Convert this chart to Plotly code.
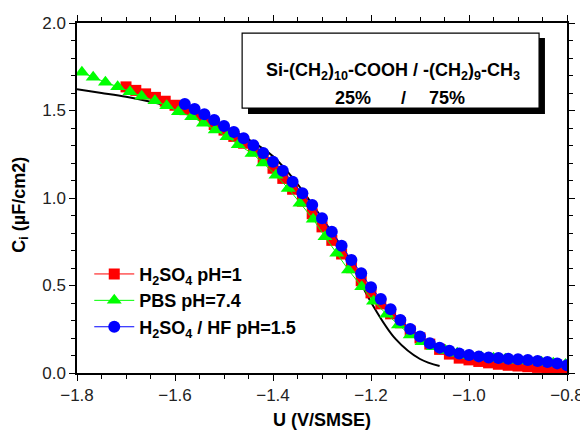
import plotly.graph_objects as go

# data
u_h2so4 = [-1.70, -1.68, -1.66, -1.64, -1.62, -1.60, -1.58, -1.56, -1.54, -1.52,
           -1.50, -1.48, -1.46, -1.44, -1.42, -1.40, -1.38, -1.36, -1.34, -1.32,
           -1.30, -1.28, -1.26, -1.24, -1.22, -1.20, -1.18, -1.16, -1.14, -1.12,
           -1.10, -1.08, -1.06, -1.04, -1.02, -1.00, -0.98, -0.96, -0.94, -0.92,
           -0.90, -0.88, -0.86, -0.84, -0.82, -0.80]
c_h2so4 = [1.635, 1.615, 1.595, 1.575, 1.553, 1.530, 1.505, 1.478, 1.450, 1.420,
           1.388, 1.352, 1.313, 1.270, 1.222, 1.170, 1.112, 1.050, 0.982, 0.910,
           0.835, 0.758, 0.680, 0.602, 0.527, 0.458, 0.395, 0.338, 0.287, 0.240,
           0.200, 0.165, 0.135, 0.108, 0.085, 0.075, 0.066, 0.058, 0.050, 0.044,
           0.040, 0.036, 0.032, 0.029, 0.026, 0.023]

u_pbs = [-1.790, -1.767, -1.742, -1.717, -1.692, -1.668, -1.641, -1.617, -1.593, -1.566,
         -1.542, -1.518, -1.494, -1.471, -1.443, -1.420, -1.394, -1.369, -1.345, -1.318,
         -1.294, -1.270, -1.246, -1.219, -1.195, -1.168, -1.144, -1.120, -1.096, -1.073,
         -1.048, -1.024, -0.999, -0.975, -0.950, -0.926, -0.901, -0.877, -0.852, -0.828,
         -0.803]
c_pbs = [1.718, 1.690, 1.661, 1.636, 1.607, 1.581, 1.556, 1.527, 1.493, 1.465,
         1.427, 1.389, 1.350, 1.305, 1.255, 1.200, 1.130, 1.055, 0.970, 0.879,
         0.779, 0.684, 0.589, 0.493, 0.410, 0.336, 0.274, 0.217, 0.179, 0.150,
         0.128, 0.113, 0.100, 0.092, 0.085, 0.079, 0.073, 0.068, 0.062, 0.056,
         0.048]

u_hf = [-1.58, -1.56, -1.54, -1.52, -1.50, -1.48, -1.46, -1.44, -1.42, -1.40,
        -1.38, -1.36, -1.34, -1.32, -1.30, -1.28, -1.26, -1.24, -1.22, -1.20,
        -1.18, -1.16, -1.14, -1.12, -1.10, -1.08, -1.06, -1.04, -1.02, -1.00,
        -0.98, -0.96, -0.94, -0.92, -0.90, -0.88, -0.86, -0.84, -0.82, -0.80]
c_hf = [1.537, 1.509, 1.478, 1.446, 1.411, 1.377, 1.341, 1.301, 1.257, 1.207,
        1.156, 1.093, 1.027, 0.960, 0.884, 0.807, 0.727, 0.646, 0.570, 0.490,
        0.423, 0.364, 0.303, 0.252, 0.208, 0.170, 0.145, 0.127, 0.112, 0.103,
        0.095, 0.089, 0.086, 0.082, 0.078, 0.074, 0.069, 0.063, 0.055, 0.044]

u_fit = [-1.80, -1.75, -1.70, -1.65, -1.60, -1.55, -1.50, -1.45, -1.40, -1.35,
         -1.30, -1.25, -1.20, -1.15, -1.10, -1.06]
c_fit = [1.621, 1.600, 1.578, 1.550, 1.515, 1.470, 1.412, 1.335, 1.238, 1.080,
         0.885, 0.675, 0.405, 0.195, 0.080, 0.040]

FONT = "Arial, Liberation Sans, sans-serif"

fig = go.Figure()

fig.add_trace(go.Scatter(
    x=u_fit, y=c_fit, mode="lines", line=dict(color="black", width=2, shape="spline"),
    showlegend=False, hoverinfo="skip",
))
fig.add_trace(go.Scatter(
    x=u_h2so4, y=c_h2so4, mode="lines+markers", name="<b>H<sub>2</sub>SO<sub>4</sub> pH=1</b>",
    line=dict(color="#ff0000", width=1),
    marker=dict(symbol="square", size=11, color="#ff0000"),
))
fig.add_trace(go.Scatter(
    x=u_pbs, y=c_pbs, mode="lines+markers", name="<b>PBS pH=7.4</b>",
    line=dict(color="#00ff00", width=1),
    marker=dict(symbol="triangle-up", size=13, color="#00ff00"),
))
fig.add_trace(go.Scatter(
    x=u_hf, y=c_hf, mode="lines+markers", name="<b>H<sub>2</sub>SO<sub>4</sub> / HF pH=1.5</b>",
    line=dict(color="#0000ff", width=1),
    marker=dict(symbol="circle", size=12, color="#0000ff"),
))

axis_common = dict(
    showline=True, linecolor="black", linewidth=1.5, mirror="allticks",
    ticks="outside", ticklen=6, tickwidth=1.2, tickcolor="black",
    showgrid=False, zeroline=False, automargin=False, ticklabeloverflow="allow",
    tickfont=dict(family=FONT, size=17, color="#222"),
)

fig.update_xaxes(
    range=[-1.8, -0.8], dtick=0.2, tickformat=".1f",
    minor=dict(dtick=0.05, ticks="outside", ticklen=4, tickcolor="black"),
    **axis_common,
)
fig.update_yaxes(
    range=[0, 2.0], dtick=0.5, tickformat=".1f",
    minor=dict(dtick=0.1, ticks="outside", ticklen=4, tickcolor="black"),
    **axis_common,
)

# axis titles
fig.add_annotation(xref="paper", yref="paper", x=0.5, y=-0.134, yanchor="middle", showarrow=False,
                   text="<b>U (V/SMSE)</b>", font=dict(family=FONT, size=18, color="black"))
fig.add_annotation(xref="paper", yref="paper", x=-0.117, y=0.48, xanchor="center", yanchor="middle",
                   showarrow=False, textangle=-90,
                   text="<b>C<sub>i</sub> (µF/cm2)</b>", font=dict(family=FONT, size=18, color="black"))

# boxed label with drop shadow
fig.add_shape(type="rect", xref="paper", yref="paper", x0=0.349, x1=0.955, y0=0.74, y1=0.957,
              fillcolor="black", line=dict(width=0), layer="above")
fig.add_shape(type="rect", xref="paper", yref="paper", x0=0.337, x1=0.943, y0=0.757, y1=0.971,
              fillcolor="white", line=dict(color="black", width=1.2), layer="above")
fig.add_annotation(
    xref="paper", yref="paper", x=0.645, y=0.90, showarrow=False,
    text="<b>Si-(CH<sub>2</sub>)<sub>10</sub>-COOH / -(CH<sub>2</sub>)<sub>9</sub>-CH<sub>3</sub></b>",
    font=dict(family=FONT, size=18, color="black"),
)
fig.add_annotation(xref="paper", yref="paper", x=0.563, y=0.82, showarrow=False,
                   text="<b>25%</b>", font=dict(family=FONT, size=18, color="black"))
fig.add_annotation(xref="paper", yref="paper", x=0.675, y=0.82, showarrow=False,
                   text="<b>/</b>", font=dict(family=FONT, size=18, color="black"))
fig.add_annotation(xref="paper", yref="paper", x=0.795, y=0.82, showarrow=False,
                   text="<b>75%</b>", font=dict(family=FONT, size=18, color="black"))

fig.update_layout(
    width=580, height=431,
    margin=dict(l=77, r=13, t=23, b=58),
    paper_bgcolor="white", plot_bgcolor="white",
    font=dict(family=FONT, color="black"),
    showlegend=True,
    legend=dict(
        x=0.025, y=0.335, xanchor="left", yanchor="top",
        bgcolor="rgba(0,0,0,0)", font=dict(family=FONT, size=18, color="black"),
        tracegroupgap=0, itemwidth=40,
    ),
)

# the page's default body margin would shift the figure by 8px
fig.write_html("out.html", config={"displayModeBar": False},
               post_script="document.body.style.margin = '0';")
